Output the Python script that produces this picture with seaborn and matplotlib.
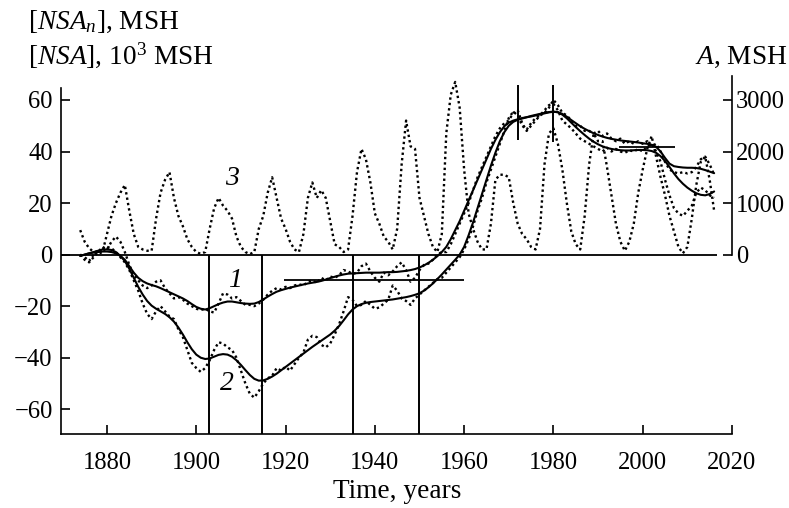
import numpy as np
import pandas as pd
import seaborn as sns
import matplotlib
matplotlib.use("Agg")
import matplotlib.pyplot as plt

years = list(range(1874, 2017))

# Curve 1: [NSA_n], MSH (smoothed)
nsa_n_smooth = [
    -0.5, 0, 0.5, 0.8, 1, 1.2, 1.2, 1, 0.5, -0.5,            # 1874-1883
    -2, -4.5, -7, -9, -10.3, -11.2, -11.8, -12.3, -13, -13.8,  # 1884-1893
    -14.6, -15.4, -16.2, -17, -18, -19.2, -20.3, -21, -21.3, -20.8,  # 1894-1903
    -20, -19.2, -18.6, -18.2, -18.2, -18.5, -18.8, -19, -19.1, -19,  # 1904-1913
    -18.4, -17.4, -16.3, -15.3, -14.4, -13.8, -13.3, -12.8, -12.4, -12,  # 1914-1923
    -11.6, -11.2, -10.9, -10.6, -10.2, -9.7, -9.1, -8.6, -8.1, -7.7,  # 1924-1933
    -7.4, -7.3, -7.2, -7.1, -7.0, -7.0, -7.0, -7.0, -6.9, -6.8,  # 1934-1943
    -6.8, -6.7, -6.5, -6.3, -6.0, -5.6, -5.0, -4.2, -3.2, -2,  # 1944-1953
    -0.6, 1, 3, 6, 9.5, 13, 17, 21, 25, 29,  # 1954-1963
    33, 37, 41, 44.5, 47.5, 49.8, 51.2, 52, 52.5, 53,  # 1964-1973
    53.3, 53.6, 54, 54.4, 54.8, 55.2, 55.4, 55.3, 54.6, 53.5,  # 1974-1983
    52.2, 51, 49.8, 48.8, 47.9, 47.1, 46.4, 45.8, 45.3, 44.9,  # 1984-1993
    44.6, 44.3, 44.1, 43.9, 43.7, 43.5, 43.2, 43, 42.6, 41.8,  # 1994-2003
    40, 37.5, 35.3, 34.3, 34, 33.8, 33.7, 33.7, 33.6, 33.3,  # 2004-2013
    32.8, 32.2, 31.6,  # 2014-2016
]

# Curve 1 raw (dotted)
nsa_n_raw = [
    0, -2, -3, -1, 1, 3, 2, 5, 7, 5,
    1, -4, -8, -10, -12, -13, -12, -10.5, -10, -13,
    -15, -17, -16.5, -17.5, -19, -20, -21, -21.5, -21, -22,
    -22.5, -19, -15, -15.5, -17, -16.5, -18, -19.5, -19.5, -20,
    -19, -17.5, -15.5, -14, -13, -13.5, -12.5, -13, -12, -11.5,
    -12, -10.5, -10, -11, -9, -10, -8.5, -9, -8, -6,
    -6.5, -7.5, -7, -4.5, -3.5, -6.5, -9, -10.5, -7, -8,
    -6.5, -4.5, -3, -6, -10.5, -9, -6, -4, -3.5, -2,
    0, 1, 1, 4, 8, 12, 16, 20, 25, 30,
    34, 38, 42, 46, 49, 51, 52, 55, 56, 51,
    48, 50, 52, 54, 55, 57, 60, 58, 55, 54,
    52, 50, 50, 48, 48, 47, 48, 46, 47, 45,
    44, 45, 43, 44, 43, 44, 43, 44, 42, 43,
    40, 36, 33, 32, 31.5, 32, 31.5, 32, 34, 37,
    38, 35, 31,
]

# Curve 2: [NSA], 10^3 MSH (smoothed)
nsa_smooth = [
    -0.5, 0, 0.5, 1, 1.5, 2, 2, 1.8, 1, -0.5,
    -2.5, -5.5, -9, -12.5, -15.5, -18, -19.8, -21, -22, -23,
    -24.3, -26, -28.3, -31, -34, -36.7, -38.8, -40, -40.5, -40.3,
    -39.6, -38.9, -38.6, -38.8, -39.6, -41, -42.8, -44.8, -46.7, -48.2,
    -48.9, -48.8, -48.2, -47.3, -46.2, -44.9, -43.6, -42.3, -41, -39.7,
    -38.4, -37.1, -35.8, -34.6, -33.4, -32.2, -31, -29.5, -27.7, -25.5,
    -23.2, -21.3, -20, -19.2, -18.7, -18.4, -18.2, -18, -17.8, -17.6,
    -17.4, -17.1, -16.8, -16.5, -16.1, -15.6, -15, -14, -12.7, -11.2,
    -9.5, -7.7, -5.8, -3.9, -2, 0, 3, 7.5, 12.5, 18,
    23.5, 29, 34.5, 39.5, 44, 47.5, 50, 51.5, 52.3, 52.8,
    53.3, 53.8, 54.2, 54.6, 55, 55.3, 55.5, 55.2, 54.3, 52.9,
    51.2, 49.5, 47.9, 46.4, 45, 43.8, 42.8, 42, 41.4, 41,
    40.7, 40.5, 40.4, 40.4, 40.5, 40.6, 40.6, 40.5, 40.2, 39.5,
    38.2, 36.3, 34, 31.5, 29.3, 27.5, 26, 24.8, 23.8, 23.2,
    23, 23.5, 24.5,
]

# Curve 2 raw (dotted)
nsa_raw = [
    0, -1, -2.5, 0, 2, 1, 3, 2.5, 1, -1,
    -3, -6, -10, -14, -19, -23, -25, -22, -20, -22,
    -24, -25, -29, -32, -37, -42, -44, -45.5, -44, -41,
    -37, -34, -34.5, -36, -37, -40, -45, -50, -54, -55.5,
    -53, -50, -48, -47, -44, -45, -43.5, -45, -42.5, -40,
    -38, -33, -31.5, -32, -35, -36, -34.5, -31, -27, -22,
    -16.5, -17.5, -20, -19.5, -18, -19.5, -21, -20.5, -19, -17.5,
    -12, -14, -17, -18, -19.5, -17, -15.5, -14, -12.5, -11,
    -9.5, -9, -7, -5, -3, -1, 2, 6, 11, 17,
    22, 28, 33, 38, 43, 48, 53, 55.5, 54, 50,
    48.5, 51, 53, 54, 56, 58, 58.5, 56, 52, 50.5,
    49, 47, 45, 44, 43, 42, 41, 40, 41.5, 40,
    41, 40, 39.5, 40.5, 40, 41, 40, 42, 43, 40,
    36, 29, 23, 18, 16, 15, 17, 19, 24, 26,
    25, 23, 22,
]

# Curve 3: sunspot area A, MSH
area = [
    475, 250, 125, 50, 15, 50, 400, 750, 1000, 1200,
    1350, 850, 400, 150, 100, 75, 75, 700, 1200, 1450,
    1600, 1100, 750, 550, 300, 150, 50, 15, 50, 500,
    900, 1100, 950, 850, 700, 350, 150, 50, 10, 50,
    500, 750, 1200, 1500, 1100, 700, 500, 250, 100, 50,
    400, 1100, 1400, 1100, 1250, 1100, 650, 200, 150, 50,
    100, 750, 1600, 2050, 1850, 1400, 800, 600, 350, 250,
    100, 500, 1750, 2600, 2100, 2050, 1100, 750, 400, 150,
    50, 400, 2350, 3100, 3350, 2850, 1650, 800, 500, 250,
    100, 100, 600, 1450, 1550, 1550, 1500, 1000, 600, 400,
    300, 150, 100, 500, 1750, 2350, 2450, 2150, 1650, 1000,
    450, 200, 100, 750, 1750, 2350, 2200, 2200, 1700, 1150,
    600, 250, 75, 250, 600, 1200, 1650, 2050, 2300, 1900,
    1500, 1150, 750, 450, 150, 25, 150, 700, 1350, 1800,
    1900, 1450, 850,
]

# reference markers
vlines_low = [1902.8, 1914.8, 1935, 1950]
vlines_high = [1972, 1980]
hline_low = (-10, 1919.6, 1959.9)
hline_high = (41.9, 1994.7, 2007.2)
xticks = [1880, 1900, 1920, 1940, 1960, 1980, 2000, 2020]
yticks_left = [-60, -40, -20, 0, 20, 40, 60]
yticks_right = [0, 1000, 2000, 3000]

df = pd.DataFrame({
    "year": years,
    "nsa_n_smooth": nsa_n_smooth,
    "nsa_n_raw": nsa_n_raw,
    "nsa_smooth": nsa_smooth,
    "nsa_raw": nsa_raw,
    "area": np.array(area) / 50.0,
})

sns.set_theme(style="ticks")
plt.rcParams["font.family"] = ["Liberation Serif", "DejaVu Serif"]
plt.rcParams["mathtext.fontset"] = "custom"
plt.rcParams["mathtext.rm"] = "Liberation Serif"
plt.rcParams["mathtext.it"] = "Liberation Serif:italic"
plt.rcParams["text.color"] = "black"
plt.rcParams["axes.labelcolor"] = "black"

fig = plt.figure(figsize=(7.89, 5.08), dpi=100)
XL = (1869.7, 2020.0)
YL = (-69.6, 69.3)
ax = fig.add_axes([61 / 789, 74 / 508, (732 - 61) / 789, (434 - 76) / 508])
ax.set_xlim(*XL)
ax.set_ylim(*YL)

dot = (0, (1.0, 1.3))
lw_d = 1.7
lw_s = 1.5
sns.lineplot(data=df, x="year", y="area", ax=ax, color="black", lw=lw_d, linestyle=dot)
sns.lineplot(data=df, x="year", y="nsa_n_raw", ax=ax, color="black", lw=lw_d, linestyle=dot)
sns.lineplot(data=df, x="year", y="nsa_raw", ax=ax, color="black", lw=lw_d, linestyle=dot)
sns.lineplot(data=df, x="year", y="nsa_n_smooth", ax=ax, color="black", lw=lw_s)
sns.lineplot(data=df, x="year", y="nsa_smooth", ax=ax, color="black", lw=lw_s)

# zero line and reference markers
ax.hlines(0, XL[0], 2016.6, color="black", lw=1.3)
ax.vlines(vlines_low, YL[0], 0, color="black", lw=1.4)
ax.vlines(vlines_high[0], 44.5, 65.8, color="black", lw=1.4)
ax.vlines(vlines_high[1], 43.8, 65.8, color="black", lw=1.4)
ax.hlines(hline_low[0], hline_low[1], hline_low[2], color="black", lw=1.3)
ax.hlines(hline_high[0], hline_high[1], hline_high[2], color="black", lw=1.3)

# curve numbers
ax.text(1908.7, -10, "1", fontsize=20, style="italic", ha="center", va="center", color="black")
ax.text(1906.8, -50, "2", fontsize=20, style="italic", ha="center", va="center", color="black")
ax.text(1907.9, 29.4, "3", fontsize=20, style="italic", ha="center", va="center", color="black")

ax.set_xlabel("")
ax.set_ylabel("")
ax.set_xticks(xticks)
ax.set_yticks(yticks_left)
ax.tick_params(axis="both", direction="in", length=6.5, width=1.2, labelsize=17.7,
               colors="black")
ax.tick_params(axis="y", pad=6)
ax.tick_params(axis="x", pad=13)
for s in ["top", "right"]:
    ax.spines[s].set_visible(False)
for s in ["left", "bottom"]:
    ax.spines[s].set_color("black")
    ax.spines[s].set_linewidth(1.2)
ax.spines["left"].set_bounds(YL[0], 64.7)

ax2 = ax.twinx()
ax2.set_ylim(YL[0] * 50, YL[1] * 50)
ax2.set_yticks(yticks_right)
ax2.tick_params(axis="y", direction="in", length=6.5, width=1.2, labelsize=17.7,
                colors="black", pad=3)
for s in ["top", "left", "bottom"]:
    ax2.spines[s].set_visible(False)
ax2.spines["right"].set_color("black")
ax2.spines["right"].set_linewidth(1.2)
ax2.spines["right"].set_bounds(0, YL[1] * 50)

fig.text(28 / 789, 1 - 22 / 508, r"[$NSA_n$], MSH", fontsize=19.7, ha="left", va="center", color="black")
fig.text(28 / 789, 1 - 55 / 508, r"[$NSA$], 10$^3$ MSH", fontsize=19.7, ha="left", va="center", color="black")
fig.text(788 / 789, 1 - 57 / 508, r"$A$, MSH", fontsize=19.7, ha="right", va="center", color="black")
fig.text(397 / 789, 1 - 492 / 508, "Time, years", fontsize=19.7, ha="center", va="center", color="black")

fig.savefig("out.png", dpi=100)
